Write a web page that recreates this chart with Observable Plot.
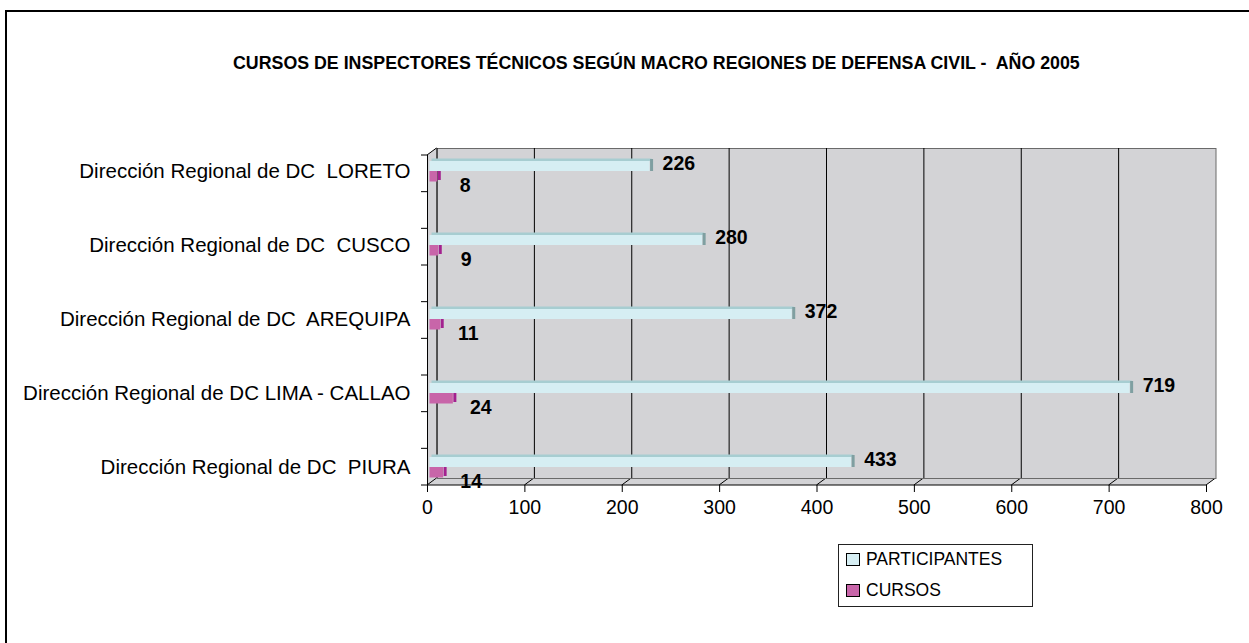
<!DOCTYPE html>
<html>
<head>
<meta charset="utf-8">
<script src="https://cdn.jsdelivr.net/npm/d3@7"></script>
<script src="https://cdn.jsdelivr.net/npm/@observablehq/plot@0.6"></script>
<style>
  body { margin: 0; background: #fff; font-family: Arial, "Liberation Sans", sans-serif; }
  #wrap { position: relative; width: 1249px; height: 643px; overflow: hidden; background: #fff; }
  #chart { position: absolute; left: 0; top: 0; }
  #chart svg text { white-space: pre; }
  #border { position: absolute; left: 5px; top: 10px; width: 1300px; height: 700px; border: 2px solid #000; box-sizing: border-box; pointer-events: none; }
  #title { position: absolute; left: 233px; top: 53px; font-size: 17.8px; line-height: 20px; font-weight: bold; white-space: pre; color: #000; }
  #legend { position: absolute; left: 838px; top: 544px; width: 195px; height: 63px; border: 1px solid #222; box-sizing: border-box; background: #fff; }
  .sw { position: absolute; left: 7px; width: 14px; height: 13px; border: 1px solid #000; box-sizing: border-box; }
  .lt { position: absolute; left: 27px; font-size: 17.5px; line-height: 20px; white-space: pre; color: #000; }
</style>
</head>
<body>
<div id="wrap">
  <div id="chart"></div>
  <div id="title"></div>
  <div id="legend"></div>
  <div id="border"></div>
</div>
<script>
// ---- data ----
const title = "CURSOS DE INSPECTORES TÉCNICOS SEGÚN MACRO REGIONES DE DEFENSA CIVIL -  AÑO 2005";
const categories = [
  "Dirección Regional de DC  LORETO",
  "Dirección Regional de DC  CUSCO",
  "Dirección Regional de DC  AREQUIPA",
  "Dirección Regional de DC LIMA - CALLAO",
  "Dirección Regional de DC  PIURA"
];
const participantes = [226, 280, 372, 719, 433];
const cursos = [8, 9, 11, 24, 14];
const xTicks = [0, 100, 200, 300, 400, 500, 600, 700, 800];
const seriesNames = ["PARTICIPANTES", "CURSOS"];
const seriesColors = ["#d6eef3", "#c865a9"];

const data = categories.map((c, i) => ({cat: c, part: participantes[i], cur: cursos[i]}));

document.getElementById("title").textContent = title;

const DX = 9.5, DY = 7;
const font = 'Arial, "Liberation Sans", sans-serif';

const chart = Plot.plot({
  width: 1249,
  height: 643,
  marginLeft: 427,
  marginRight: 43,
  marginTop: 148,
  marginBottom: 165,
  style: {fontFamily: font, background: "none", color: "#000"},
  x: {domain: [0, 800]},
  y: {domain: categories, range: [134, 504], padding: 0},
  marks: [
    Plot.frame({fill: "#d3d3d6", stroke: "#6a6a6a", dx: DX}),
    Plot.ruleX(xTicks.slice(0, -1), {dx: DX, stroke: "#000", strokeWidth: 1}),
    Plot.ruleX([0], {dy: DY, stroke: "#000", strokeWidth: 1}),
    // PARTICIPANTES
    Plot.barX(data, {x: "part", y: "cat", fill: "#a7cdd1", insetTop: 24.5, insetBottom: 47, dx: 4.5}),
    Plot.barX(data, {x: "part", y: "cat", fill: seriesColors[0], insetTop: 27, insetBottom: 37, dx: 2.5}),
    Plot.tickX(data, {x: "part", y: "cat", stroke: "#7f9fa1", strokeWidth: 3, insetTop: 25, insetBottom: 37, dx: 4}),
    // CURSOS
    Plot.barX(data, {x: "cur", y: "cat", fill: seriesColors[1], insetTop: 37, insetBottom: 26.5, dx: 2.5}),
    Plot.tickX(data, {x: "cur", y: "cat", stroke: "#a3218f", strokeWidth: 3, insetTop: 37, insetBottom: 28, dx: 4}),
    // labels
    Plot.text(data, {x: "part", y: "cat", text: d => String(d.part), textAnchor: "start", dx: 15, dy: -8, fontWeight: "bold", fontSize: 19.5, fill: "#000"}),
    Plot.text(data, {x: "cur", y: "cat", text: d => String(d.cur), textAnchor: "middle", dx: 30, dy: 14, fontWeight: "bold", fontSize: 19.5, fill: "#000"}),
    Plot.axisX({ticks: xTicks, tickFormat: d => String(d), tickSize: 7, tickPadding: 8, dy: DY, fontSize: 19.5, label: null}),
    Plot.axisY({tickSize: 0, tickPadding: 17, fontSize: 20.5, label: null})
  ]
});
document.getElementById("chart").appendChild(chart);

// 3D decorations (walls, floor, depth ticks) derived from the plot's own x scale
const xs = chart.scale("x");
const X = v => xs.apply(v);
const backTop = 148, backBot = 643 - 165;
const frontTop = backTop + DY, frontBot = backBot + DY;
const x0 = X(0), x1 = X(800);
const g = d3.create("svg:g").attr("class", "deco");
g.append("polygon")
  .attr("points", [[x0, frontTop], [x0 + DX, backTop], [x0 + DX, backBot], [x0, frontBot]].map(p => p.join(",")).join(" "))
  .attr("fill", "#d3d3d6");
g.append("polygon")
  .attr("points", [[x0, frontBot], [x0 + DX, backBot], [x1 + DX, backBot], [x1, frontBot]].map(p => p.join(",")).join(" "))
  .attr("fill", "#d3d3d6");
g.append("line").attr("x1", x0).attr("x2", x1).attr("y1", frontBot).attr("y2", frontBot).attr("stroke", "#000");
g.append("line").attr("x1", x0).attr("x2", x0 + DX).attr("y1", frontTop).attr("y2", backTop).attr("stroke", "#000");
for (const t of xTicks) {
  g.append("line").attr("x1", X(t)).attr("x2", X(t) + DX).attr("y1", frontBot).attr("y2", backBot).attr("stroke", "#000");
}
const nLeft = 10;
for (let i = 0; i < nLeft; i++) {
  const y = frontTop + i * (frontBot - frontTop) / (nLeft - 1);
  g.append("line").attr("x1", x0 - 6).attr("x2", x0).attr("y1", y).attr("y2", y).attr("stroke", "#000");
}
const styleEl = chart.querySelector("style");
if (styleEl) styleEl.after(g.node()); else chart.insertBefore(g.node(), chart.firstChild);

// legend
const legend = document.getElementById("legend");
seriesNames.forEach((name, i) => {
  const sw = document.createElement("div");
  sw.className = "sw";
  sw.style.top = (8 + i * 31) + "px";
  sw.style.background = seriesColors[i];
  legend.appendChild(sw);
  const lt = document.createElement("div");
  lt.className = "lt";
  lt.style.top = (4 + i * 31) + "px";
  lt.textContent = name;
  legend.appendChild(lt);
});
</script>
</body>
</html>
